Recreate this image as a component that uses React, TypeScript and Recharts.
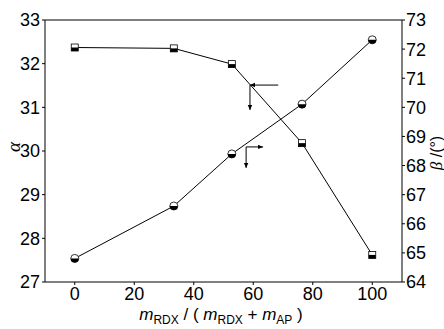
import React from "react";
import { LineChart, Line, XAxis, YAxis, ReferenceLine, Label } from "recharts";

const ratio = [0, 33.3, 52.8, 76.4, 100];
const alphaVals = [32.37, 32.35, 31.99, 30.18, 27.62];
const betaVals = [64.81, 66.61, 68.4, 70.11, 72.32];
const xTicks = [0, 20, 40, 60, 80, 100];
const alphaTicks = [27, 28, 29, 30, 31, 32, 33];
const betaTicks = [64, 65, 66, 67, 68, 69, 70, 71, 72, 73];

const data = ratio.map((x, i) => ({ x, alpha: alphaVals[i], beta: betaVals[i] }));

const FONT = "'Liberation Sans Narrow', 'Liberation Sans', Arial, sans-serif";
const tickStyle = { fill: "#000", fontSize: 18, fontFamily: FONT };

const SquareDot = (props: any) => {
  const { cx, cy } = props;
  if (cx == null || cy == null) return null;
  const w = 7, h = 7;
  return (
    <g>
      <rect x={cx - w / 2} y={cy - h / 2} width={w} height={h} fill="#fff" stroke="#000" strokeWidth={0.8} />
      <rect x={cx - w / 2} y={cy} width={w} height={h / 2} fill="#000" />
    </g>
  );
};

const CircleDot = (props: any) => {
  const { cx, cy } = props;
  if (cx == null || cy == null) return null;
  const r = 4;
  return (
    <g>
      <circle cx={cx} cy={cy} r={r} fill="#fff" stroke="#000" strokeWidth={0.8} />
      <path d={`M ${cx - r} ${cy} A ${r} ${r} 0 0 0 ${cx + r} ${cy} Z`} fill="#000" />
    </g>
  );
};

const arrowShape = (head: boolean) => (props: any) => {
  const { x1, y1, x2, y2 } = props;
  if ([x1, y1, x2, y2].some((v) => v == null || isNaN(v))) return null;
  const dx = x2 - x1, dy = y2 - y1;
  const len = Math.sqrt(dx * dx + dy * dy) || 1;
  const ux = dx / len, uy = dy / len;
  const L = 5, W = 2.2;
  const bx = x2 - ux * L, by = y2 - uy * L;
  return (
    <g>
      <line x1={x1} y1={y1} x2={x2} y2={y2} stroke="#000" strokeWidth={1} />
      {head && (
        <polygon
          points={`${x2},${y2} ${bx - uy * W},${by + ux * W} ${bx + uy * W},${by - ux * W}`}
          fill="#000"
        />
      )}
    </g>
  );
};

const AlphaLabel = () => (
  <text x={13} y={147} transform="rotate(-90 13 147)" textAnchor="middle" dominantBaseline="central"
    fontFamily="'Liberation Serif', serif" fontStyle="italic" fontSize={19} fill="#000">α</text>
);

const BetaLabel = () => (
  <text x={436} y={153} transform="rotate(-90 436 153)" textAnchor="middle" dominantBaseline="central"
    fontFamily={FONT} fontSize={16} fill="#000">
    <tspan fontFamily="'Liberation Serif', serif" fontStyle="italic" fontSize={17}>β</tspan>
    <tspan> /(°)</tspan>
  </text>
);

const XLabel = () => (
  <text x={221} y={320} textAnchor="middle" fontFamily={FONT} fontSize={17} fill="#000">
    <tspan fontStyle="italic">m</tspan>
    <tspan fontSize={12} dy={4}>RDX</tspan>
    <tspan dy={-4}> / ( </tspan>
    <tspan fontStyle="italic">m</tspan>
    <tspan fontSize={12} dy={4}>RDX</tspan>
    <tspan dy={-4}> + </tspan>
    <tspan fontStyle="italic">m</tspan>
    <tspan fontSize={12} dy={4}>AP</tspan>
    <tspan dy={-4}> )</tspan>
  </text>
);

export default function App() {
  return (
    <div style={{ position: "absolute", left: 0, top: 0, width: 444, height: 329, background: "#fff" }}>
      <LineChart width={444} height={329} data={data} margin={{ top: 20, right: 0, left: 0, bottom: 0 }}>
        <XAxis
          dataKey="x"
          type="number"
          domain={[-10, 110]}
          ticks={xTicks}
          height={47}
          tickSize={3}
          tickMargin={2}
          stroke="#000"
          tick={tickStyle}
          allowDataOverflow
        >
          <Label content={<XLabel />} />
        </XAxis>
        <YAxis
          yAxisId="left"
          domain={[27, 33]}
          ticks={alphaTicks}
          width={45}
          tickSize={3}
          tickMargin={2}
          stroke="#000"
          tick={tickStyle}
        >
          <Label content={<AlphaLabel />} />
        </YAxis>
        <YAxis
          yAxisId="right"
          orientation="right"
          domain={[64, 73]}
          ticks={betaTicks}
          width={42}
          tickSize={3}
          tickMargin={1}
          stroke="#000"
          tick={{ ...tickStyle, textAnchor: "start" }}
        >
          <Label content={<BetaLabel />} />
        </YAxis>
        <ReferenceLine yAxisId="left" y={33} stroke="#000" strokeWidth={1} />
        <Line
          yAxisId="left"
          dataKey="alpha"
          stroke="#000"
          strokeWidth={1}
          dot={<SquareDot />}
          isAnimationActive={false}
        />
        <Line
          yAxisId="right"
          dataKey="beta"
          stroke="#000"
          strokeWidth={1}
          dot={<CircleDot />}
          isAnimationActive={false}
        />
        <ReferenceLine yAxisId="left" ifOverflow="visible"
          segment={[{ x: 68.4, y: 31.51 }, { x: 58.9, y: 31.51 }]} shape={arrowShape(true)} />
        <ReferenceLine yAxisId="left" ifOverflow="visible"
          segment={[{ x: 58.9, y: 31.51 }, { x: 58.9, y: 30.94 }]} shape={arrowShape(true)} />
        <ReferenceLine yAxisId="right" ifOverflow="visible"
          segment={[{ x: 57.6, y: 68.64 }, { x: 63.3, y: 68.64 }]} shape={arrowShape(true)} />
        <ReferenceLine yAxisId="right" ifOverflow="visible"
          segment={[{ x: 57.6, y: 68.64 }, { x: 57.6, y: 67.92 }]} shape={arrowShape(true)} />
      </LineChart>
    </div>
  );
}
